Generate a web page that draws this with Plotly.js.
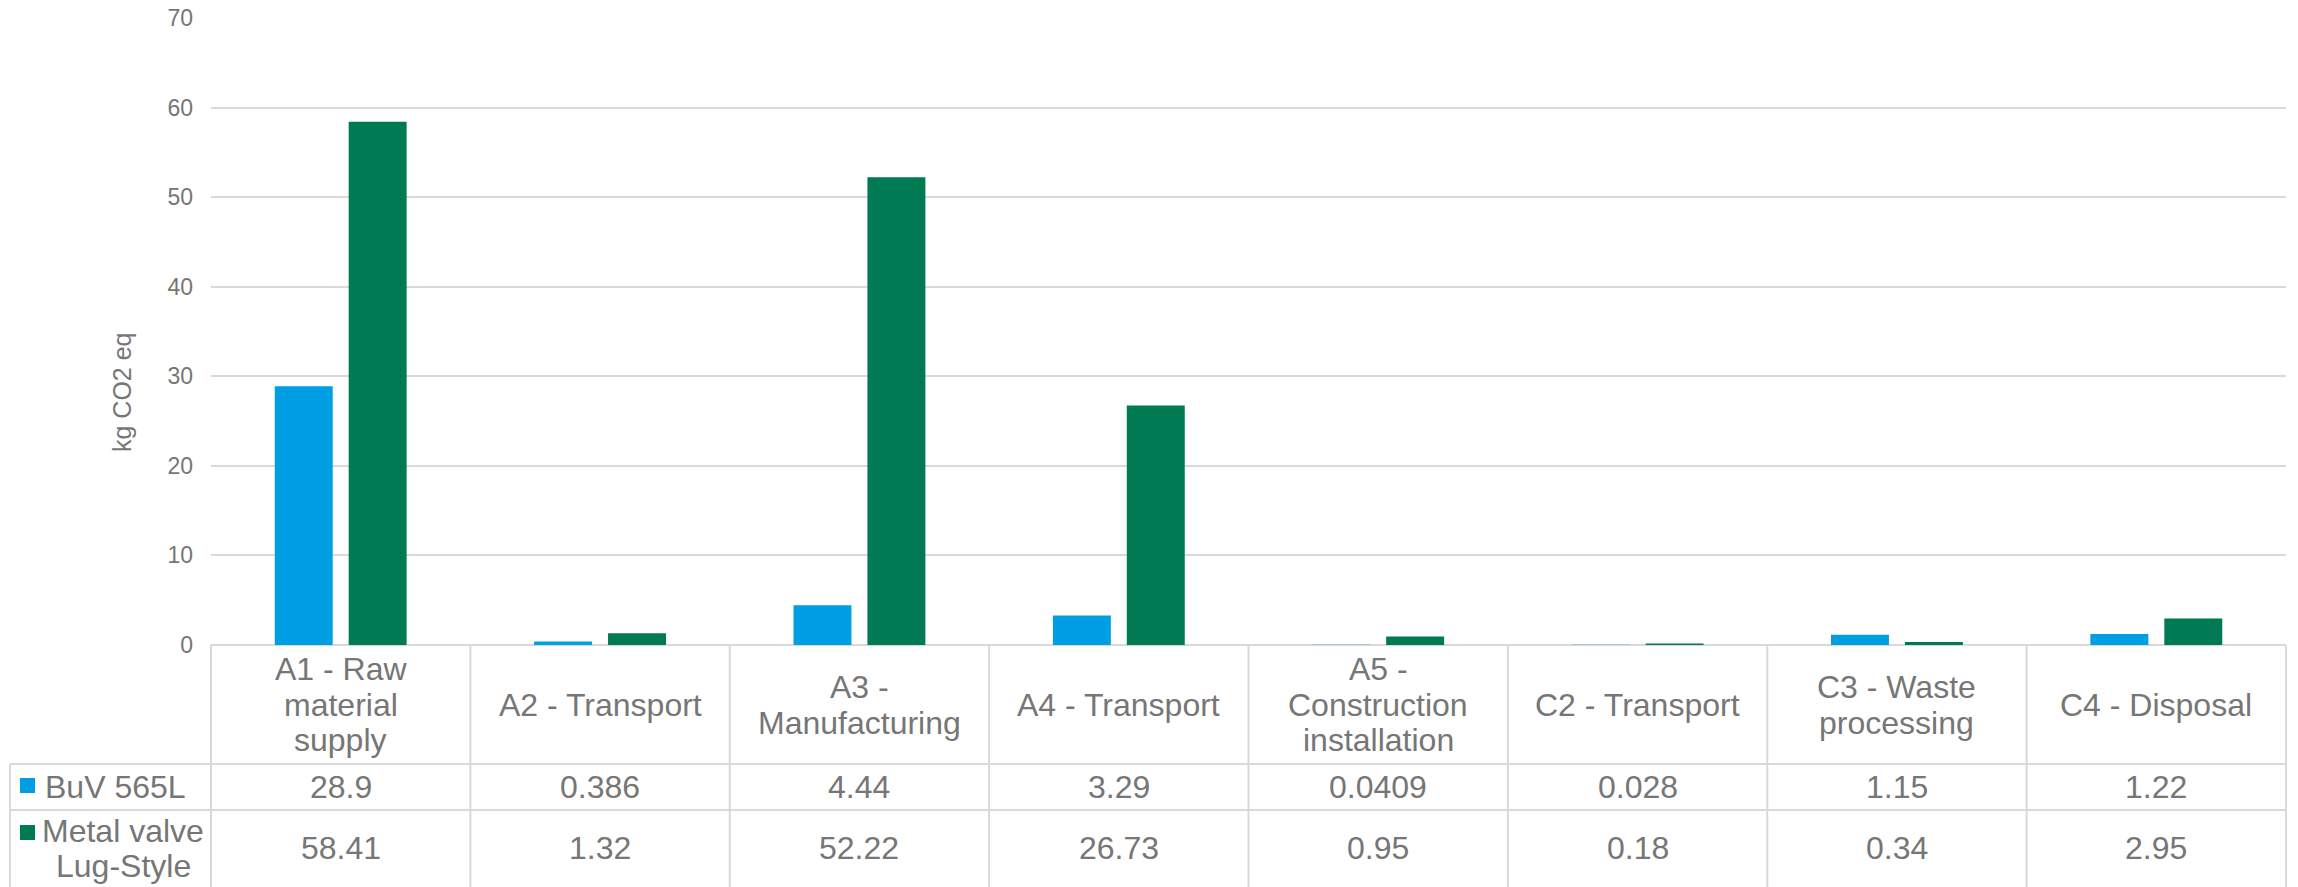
<!DOCTYPE html>
<html><head><meta charset="utf-8">
<script src="https://cdn.plot.ly/plotly-3.0.1.min.js"></script>
<style>html,body{margin:0;padding:0;background:#fff}#chart{width:2298px;height:887px}</style>
</head><body><div id="chart"></div>
<script>
// ---- data ----
const categories = ["A1 - Raw\nmaterial\nsupply", "A2 - Transport", "A3 -\nManufacturing", "A4 - Transport",
  "A5 -\nConstruction\ninstallation", "C2 - Transport", "C3 - Waste\nprocessing", "C4 - Disposal"];
const seriesNames = ["BuV 565L", "Metal valve\nLug-Style"];
const buvValues = [28.9, 0.386, 4.44, 3.29, 0.0409, 0.028, 1.15, 1.22];
const metalValues = [58.41, 1.32, 52.22, 26.73, 0.95, 0.18, 0.34, 2.95];
const yTickValues = [0, 10, 20, 30, 40, 50, 60, 70];
const yAxisTitle = "kg CO2 eq";

// ---- styling / layout ----
const W = 2298, H = 887;
const L = 211, R = 2286, T = 18, B = 645;
const colors = ["#009FE3", "#007A53"];
const textColor = "#767676";
const lineColor = "#D9D9D9";
const font = "Liberation Sans, Arial, sans-serif";
const tableFont = 32;
const lineH = 36;
const px = X => (X - L) / (R - L);
const py = Y => (B - Y) / (B - T);

const catKeys = categories.map(c => c.replace(/\n/g, " "));
const seriesValues = [buvValues, metalValues];

const traces = seriesValues.map((vals, i) => ({
  type: "bar",
  name: seriesNames[i].replace(/\n/g, " "),
  x: catKeys,
  y: vals,
  marker: {color: colors[i], line: {width: 0}},
  hoverinfo: "x+y"
}));

const annotations = [];
const nCat = categories.length;
const headerMid = 704.5, row1Mid = 787, row2Mid = 848;

// header labels (one annotation per line for tight spacing)
categories.forEach((c, i) => {
  const lines = c.split("\n");
  lines.forEach((ln, j) => {
    const yc = headerMid + (j - (lines.length - 1) / 2) * lineH;
    annotations.push({xref: "x", yref: "paper", x: catKeys[i], y: py(yc), text: ln, showarrow: false,
      xanchor: "center", yanchor: "middle", font: {family: font, size: tableFont, color: textColor}});
  });
});
// value rows
const rowMids = [row1Mid, row2Mid];
seriesValues.forEach((vals, s) => {
  vals.forEach((v, i) => {
    annotations.push({xref: "x", yref: "paper", x: catKeys[i], y: py(rowMids[s]), text: String(v), showarrow: false,
      xanchor: "center", yanchor: "middle", font: {family: font, size: tableFont, color: textColor}});
  });
  const lines = seriesNames[s].split("\n");
  lines.forEach((ln, j) => {
    const yc = rowMids[s] + (j - (lines.length - 1) / 2) * (lineH - 1);
    annotations.push({xref: "paper", yref: "paper",
      x: lines.length === 1 ? px(43) : px(123), y: py(yc), text: ln, showarrow: false,
      xanchor: lines.length === 1 ? "left" : "center", yanchor: "middle",
      font: {family: font, size: tableFont, color: textColor}});
  });
});
// y axis title
annotations.push({xref: "paper", yref: "paper", x: px(122), y: py(392), text: yAxisTitle, textangle: -90,
  showarrow: false, xanchor: "center", yanchor: "middle", font: {family: font, size: 25, color: textColor}});

// table grid shapes
const shapes = [];
const ln = (x0, y0, x1, y1) => shapes.push({type: "line", xref: "paper", yref: "paper",
  x0: x0, y0: y0, x1: x1, y1: y1, line: {color: lineColor, width: 2}, layer: "below"});
ln(px(L), py(B), px(R), py(B));
ln(px(10), py(764), px(R), py(764));
ln(px(10), py(810), px(R), py(810));
ln(px(10), py(764), px(10), py(H));
for (let k = 0; k <= nCat; k++) ln(k / nCat, py(B), k / nCat, py(H));
// legend keys
const keyY = [[778, 793], [825, 840]];
colors.forEach((c, i) => shapes.push({type: "rect", xref: "paper", yref: "paper",
  x0: px(20), x1: px(35), y0: py(keyY[i][1]), y1: py(keyY[i][0]), fillcolor: c, line: {width: 0}}));

const layout = {
  width: W, height: H,
  margin: {l: L, r: W - R, t: T, b: H - B, pad: 0},
  paper_bgcolor: "#fff", plot_bgcolor: "#fff",
  barmode: "group", bargap: 0.43, bargroupgap: 0.216,
  showlegend: false,
  font: {family: font, color: textColor},
  xaxis: {type: "category", categoryarray: catKeys, range: [-0.5, nCat - 0.5],
    showticklabels: false, showgrid: false, zeroline: false, showline: false, fixedrange: true},
  yaxis: {range: [0, 70], tickvals: yTickValues, ticktext: yTickValues.map(String), showgrid: true,
    gridcolor: lineColor, gridwidth: 2, zeroline: false, showline: false, ticks: "",
    ticklabelstandoff: 17, tickfont: {family: font, size: 23, color: textColor}, fixedrange: true},
  annotations: annotations,
  shapes: shapes
};

Plotly.newPlot("chart", traces, layout, {displayModeBar: false, staticPlot: true});
</script>
</body></html>
